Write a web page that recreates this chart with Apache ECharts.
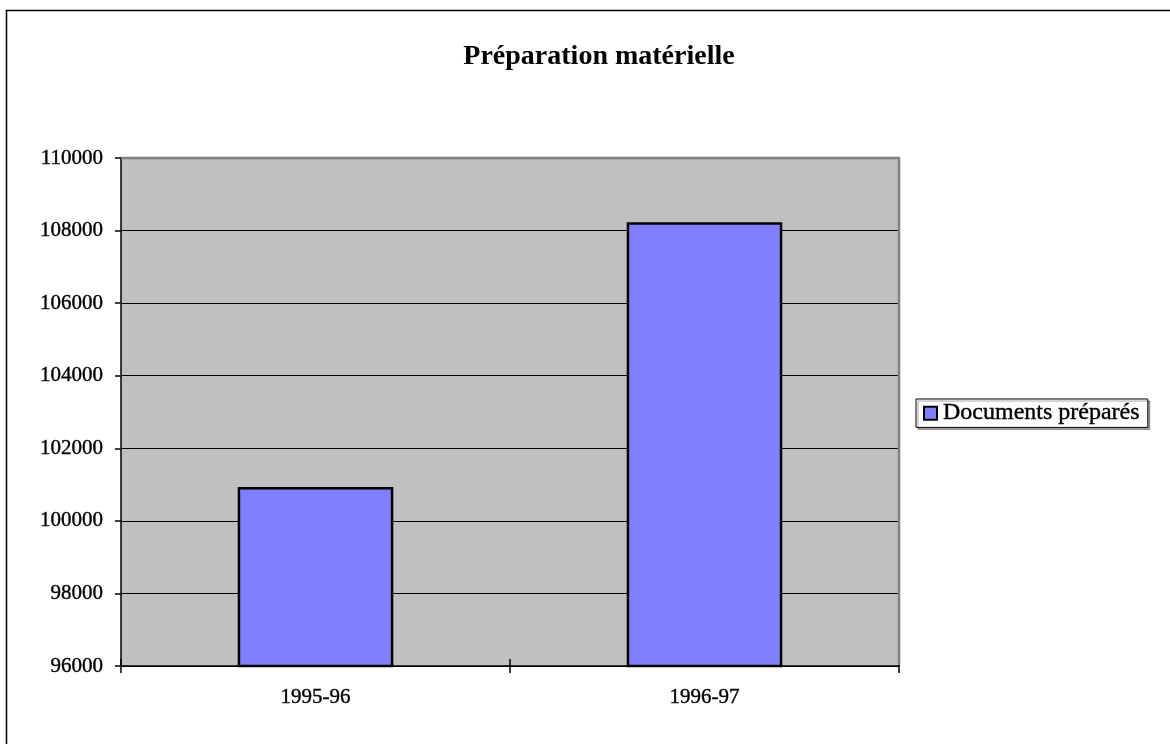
<!DOCTYPE html>
<html><head><meta charset="utf-8">
<script src="https://cdn.jsdelivr.net/npm/echarts@6/dist/echarts.min.js"></script>
<style>html,body{margin:0;padding:0;background:#fff}#c{width:1170px;height:744px}</style>
</head><body><div id="c"></div>
<script>
const categories = ['1995-96', '1996-97'];
const documentsPrepares = [100930, 108230];
const yTicks = [96000, 98000, 100000, 102000, 104000, 106000, 108000, 110000];
const titleText = 'Préparation matérielle';
const seriesName = 'Documents préparés';

const FONT = 'Liberation Serif';
const G = {left: 121, right: 271, top: 158, bottom: 78};
const W = 1170, H = 744;
const heavy = {textBorderColor: '#000', textBorderWidth: 0.4};

const chart = echarts.init(document.getElementById('c'));
chart.setOption({
  animation: false,
  backgroundColor: '#fff',
  textStyle: {fontFamily: FONT},
  title: {
    text: titleText, left: 594, top: 38, textAlign: 'center',
    textStyle: {fontFamily: FONT, fontWeight: 'bold', fontSize: 28, color: '#000'}
  },
  legend: {
    data: [seriesName], orient: 'vertical', left: 916, top: 399,
    icon: 'rect',
    itemWidth: 13, itemHeight: 13, itemGap: 4,
    padding: [2, 8, 2, 7],
    borderColor: '#000', borderWidth: 1, backgroundColor: '#fff',
    shadowColor: 'rgba(0,0,0,0.35)', shadowOffsetX: 2, shadowOffsetY: 2,
    textStyle: Object.assign({fontFamily: FONT, fontSize: 24, color: '#000', padding: [0, 0, 0, 1]}, heavy)
  },
  grid: {left: G.left, right: G.right, top: G.top, bottom: G.bottom, show: true,
         backgroundColor: '#c0c0c0', borderWidth: 0},
  xAxis: [{
    type: 'category', data: categories, position: 'bottom',
    axisLine: {lineStyle: {color: '#000', width: 1.5}},
    axisTick: {show: true, length: 7, lineStyle: {color: '#000', width: 1.5}},
    axisLabel: Object.assign({fontFamily: FONT, fontSize: 21, color: '#000', margin: 21}, heavy)
  }, {
    type: 'category', data: categories, position: 'bottom',
    axisLine: {show: false},
    axisTick: {show: true, inside: true, length: 7, lineStyle: {color: '#000', width: 1.5}},
    axisLabel: {show: false}
  }],
  yAxis: {
    type: 'value', min: yTicks[0], max: yTicks[yTicks.length - 1], interval: yTicks[1] - yTicks[0],
    axisLine: {show: true, lineStyle: {color: '#000', width: 1.5}},
    axisTick: {show: true, length: 6, lineStyle: {color: '#000', width: 1.5}},
    axisLabel: Object.assign({fontFamily: FONT, fontSize: 21, color: '#000', margin: 18,
                formatter: v => String(v)}, heavy),
    splitLine: {show: true, lineStyle: {color: '#000', width: 1}}
  },
  series: [{
    name: seriesName, type: 'bar', data: documentsPrepares, barWidth: '40%',
    itemStyle: {color: '#8080ff', borderColor: '#000', borderWidth: 2.5}
  }],
  graphic: [
    {type: 'polyline', z: 100, silent: true,
     shape: {points: [[G.left, G.top], [W - G.right, G.top], [W - G.right, H - G.bottom - 1]]},
     style: {stroke: '#808080', lineWidth: 2.5, fill: null}},
    {type: 'rect', z: 100, silent: true,
     shape: {x: 6.5, y: 10.5, width: 1300, height: 900},
     style: {stroke: '#000', lineWidth: 1.5, fill: null}}
  ]
});
</script></body></html>
